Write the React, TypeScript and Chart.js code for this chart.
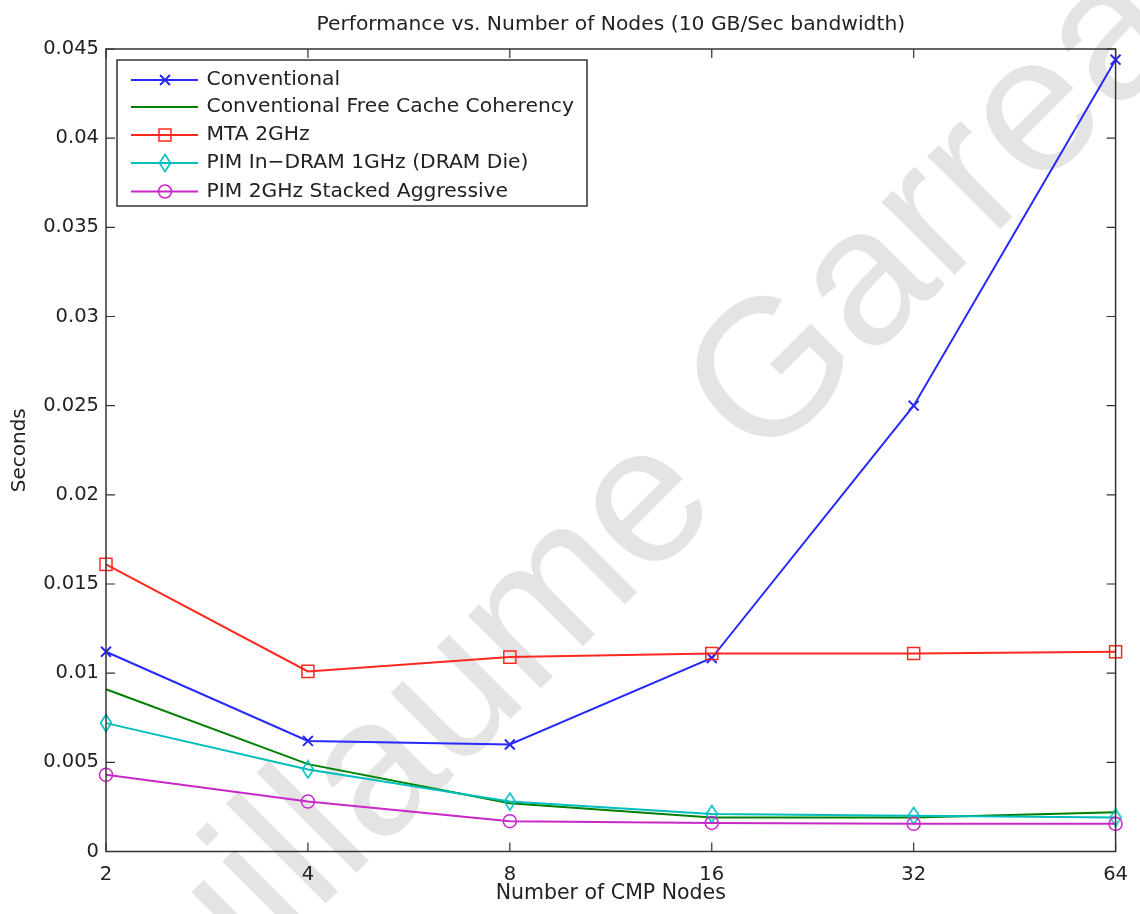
import React, { useEffect, useRef } from "react";
import { Chart, registerables } from "chart.js";
import { drawPoint } from "chart.js/helpers";

Chart.register(...registerables);

const nodeCounts = ["2", "4", "8", "16", "32", "64"];
const conventional = [0.0112, 0.0062, 0.006, 0.01085, 0.025, 0.0444];
const conventionalFreeCC = [0.0091, 0.0049, 0.0027, 0.0019, 0.0019, 0.0022];
const mta2GHz = [0.0161, 0.0101, 0.0109, 0.0111, 0.0111, 0.0112];
const pimInDram = [0.0072, 0.0046, 0.0028, 0.0021, 0.002, 0.0019];
const pimStacked = [0.0043, 0.0028, 0.0017, 0.0016, 0.00155, 0.00155];
const yTicks = [0, 0.005, 0.01, 0.015, 0.02, 0.025, 0.03, 0.035, 0.04, 0.045];

const seriesNames = [
  "Conventional",
  "Conventional Free Cache Coherency",
  "MTA 2GHz",
  "PIM In\u2212DRAM 1GHz (DRAM Die)",
  "PIM 2GHz Stacked Aggressive",
];
const titleText = "Performance vs. Number of Nodes (10 GB/Sec bandwidth)";
const xTitle = "Number of CMP Nodes";
const yTitle = "Seconds";
const watermarkText = "Guillaume Garreau";

const FONT = "'DejaVu Sans', sans-serif";
const TEXT = "#222";

function makeDiamond(color: string): HTMLCanvasElement {
  const c = document.createElement("canvas");
  c.width = 14;
  c.height = 20;
  const g = c.getContext("2d")!;
  g.strokeStyle = color;
  g.lineWidth = 1.6;
  g.beginPath();
  g.moveTo(7, 1.5);
  g.lineTo(12.5, 10);
  g.lineTo(7, 18.5);
  g.lineTo(1.5, 10);
  g.closePath();
  g.stroke();
  return c;
}

const fmt = (v: number) => String(Number(v.toFixed(4)));

const decorPlugin = {
  id: "decor",
  beforeDraw(chart: any) {
    const ctx = chart.ctx;
    ctx.save();
    ctx.fillStyle = "#fff";
    ctx.fillRect(0, 0, chart.width, chart.height);
    // watermark
    const F = 195;
    ctx.font = `${F}px 'Liberation Sans', Arial, sans-serif`;
    const wG = ctx.measureText("G").width;
    const wBefore = ctx.measureText("Guillaume ").width;
    ctx.translate(765, 365);
    ctx.rotate(-Math.PI / 4);
    ctx.fillStyle = "rgb(228,228,228)";
    ctx.textBaseline = "alphabetic";
    ctx.textAlign = "left";
    ctx.fillText(watermarkText, -wBefore - wG / 2, F * 0.36);
    ctx.restore();
  },
  afterDatasetsDraw(chart: any) {
    const ctx = chart.ctx;
    const a = chart.chartArea;
    const xs = chart.scales.x;
    const ys = chart.scales.y;
    ctx.save();
    ctx.strokeStyle = "#333";
    ctx.lineWidth = 1.5;
    ctx.strokeRect(a.left, a.top, a.right - a.left, a.bottom - a.top);
    ctx.lineWidth = 1.2;
    ctx.beginPath();
    const tl = 9;
    for (let i = 0; i < xs.ticks.length; i++) {
      const px = xs.getPixelForTick(i);
      ctx.moveTo(px, a.bottom);
      ctx.lineTo(px, a.bottom - tl);
      ctx.moveTo(px, a.top);
      ctx.lineTo(px, a.top + tl);
    }
    for (let i = 0; i < ys.ticks.length; i++) {
      const py = ys.getPixelForValue(ys.ticks[i].value);
      ctx.moveTo(a.left, py);
      ctx.lineTo(a.left + tl, py);
      ctx.moveTo(a.right, py);
      ctx.lineTo(a.right - tl, py);
    }
    ctx.stroke();
    // title
    ctx.fillStyle = TEXT;
    ctx.font = `20.3px ${FONT}`;
    ctx.textAlign = "center";
    ctx.textBaseline = "middle";
    ctx.fillText(titleText, (a.left + a.right) / 2, 25);
    ctx.restore();
  },
  afterDraw(chart: any) {
    const ctx = chart.ctx;
    const bx = 117, by = 60, bw = 470, bh = 146;
    ctx.save();
    ctx.fillStyle = "#fff";
    ctx.fillRect(bx, by, bw, bh);
    ctx.strokeStyle = "#333";
    ctx.lineWidth = 1.5;
    ctx.strokeRect(bx, by, bw, bh);
    const rowY = [80, 107, 135, 163, 191.5];
    chart.data.datasets.forEach((ds: any, i: number) => {
      const y = rowY[i];
      ctx.strokeStyle = ds.borderColor;
      ctx.lineWidth = ds.borderWidth;
      ctx.beginPath();
      ctx.moveTo(131, y);
      ctx.lineTo(198, y);
      ctx.stroke();
      if (ds.pointRadius > 0) {
        ctx.strokeStyle = ds.borderColor;
        ctx.fillStyle = "rgba(0,0,0,0)";
        ctx.lineWidth = ds.pointBorderWidth;
        drawPoint(ctx, { pointStyle: ds.pointStyle, radius: ds.pointRadius, rotation: 0, borderWidth: ds.pointBorderWidth }, 165, y);
      }
      ctx.fillStyle = TEXT;
      ctx.font = `20.3px ${FONT}`;
      ctx.textAlign = "left";
      ctx.textBaseline = "middle";
      ctx.fillText(ds.label, 206.5, y);
    });
    ctx.restore();
  },
};

export default function App() {
  const ref = useRef<HTMLCanvasElement | null>(null);
  useEffect(() => {
    document.body.style.margin = "0";
    const canvas = ref.current!;
    const blue = "rgb(40,40,255)";
    const green = "rgb(0,128,0)";
    const red = "rgb(255,40,30)";
    const cyan = "rgb(0,190,190)";
    const magenta = "rgb(200,40,200)";
    const chart = new Chart(canvas, {
      type: "line",
      data: {
        labels: nodeCounts,
        datasets: [
          { label: seriesNames[0], data: conventional, borderColor: blue, borderWidth: 2, pointStyle: "crossRot", pointRadius: 7, pointBorderWidth: 2, pointBorderColor: blue, backgroundColor: "rgba(0,0,0,0)", pointBackgroundColor: "rgba(0,0,0,0)", order: 5 },
          { label: seriesNames[1], data: conventionalFreeCC, borderColor: green, borderWidth: 2, pointRadius: 0, pointBorderWidth: 0, order: 4 },
          { label: seriesNames[2], data: mta2GHz, borderColor: red, borderWidth: 2, pointStyle: "rect", pointRadius: 8.5, pointBorderWidth: 1.5, pointBorderColor: red, pointBackgroundColor: "rgba(0,0,0,0)", order: 3 },
          { label: seriesNames[3], data: pimInDram, borderColor: cyan, borderWidth: 2, pointStyle: makeDiamond(cyan), pointRadius: 9, pointBorderWidth: 1.5, pointBorderColor: cyan, pointBackgroundColor: "rgba(0,0,0,0)", order: 2 },
          { label: seriesNames[4], data: pimStacked, borderColor: magenta, borderWidth: 2, pointStyle: "circle", pointRadius: 6.5, pointBorderWidth: 1.5, pointBorderColor: magenta, pointBackgroundColor: "rgba(0,0,0,0)", order: 1 },
        ],
      },
      options: {
        responsive: false,
        animation: false,
        layout: { padding: { top: 49, right: 17, left: 0, bottom: 0 } },
        elements: { line: { tension: 0 } },
        plugins: { legend: { display: false }, title: { display: false }, tooltip: { enabled: false } },
        scales: {
          x: {
            type: "category",
            offset: false,
            grid: { display: false, drawTicks: false },
            border: { display: false },
            ticks: { color: TEXT, font: { family: FONT, size: 19.5 }, padding: 12, maxRotation: 0, autoSkip: false },
            title: { display: true, text: xTitle, color: TEXT, font: { family: FONT, size: 20.5 }, padding: { top: 0, bottom: 8 } },
            afterFit: (s: any) => { s.height = 62.5; },
          },
          y: {
            type: "linear",
            min: 0,
            max: 0.045,
            grid: { display: false, drawTicks: false },
            border: { display: false },
            afterBuildTicks: (s: any) => { s.ticks = yTicks.map((v) => ({ value: v })); },
            ticks: { color: TEXT, font: { family: FONT, size: 19.5 }, padding: 7, callback: (v: any) => fmt(Number(v)) },
            title: { display: true, text: yTitle, color: TEXT, font: { family: FONT, size: 20 }, padding: { top: 7.5, bottom: 0 } },
            afterFit: (s: any) => { s.width = 106; },
          },
        },
      },
      plugins: [decorPlugin],
    });
    return () => chart.destroy();
  }, []);
  return (
    <div style={{ position: "absolute", left: 0, top: 0, width: 1140, height: 914 }}>
      <canvas ref={ref} width={1140} height={914} style={{ width: 1140, height: 914, display: "block" }} />
    </div>
  );
}
